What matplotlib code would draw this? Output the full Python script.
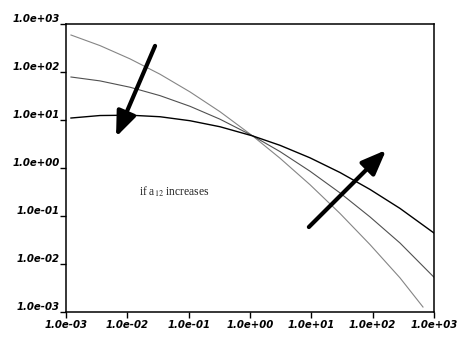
import numpy as np
import matplotlib
matplotlib.use("Agg")
import matplotlib.pyplot as plt
from matplotlib.ticker import FixedLocator, NullLocator

# ----
# DATA
# ----
decades = [1e-3, 1e-2, 1e-1, 1e0, 1e1, 1e2, 1e3]
x_labels = ["1.0e-03", "1.0e-02", "1.0e-01", "1.0e+00", "1.0e+01", "1.0e+02", "1.0e+03"]
y_labels = ["1.0e-03", "1.0e-02", "1.0e-01", "1.0e+00", "1.0e+01", "1.0e+02", "1.0e+03"]

# three responses, steepest first
x_a = [1.206e-3, 3.585e-3, 1.105e-2, 3.41e-2, 0.1052, 0.3243, 1.119, 3.086, 9.52, 29.35, 90.5, 279, 662]
y_a = [590, 355, 188, 90, 38.5, 14.9, 4.6, 1.6, 0.449, 0.113, 0.0254, 0.00515, 0.00127]

x_b = [1.206e-3, 3.585e-3, 1.105e-2, 3.41e-2, 0.1052, 0.3243, 1.119, 3.086, 9.52, 29.35, 90.5, 279, 1000]
y_b = [78.7, 65.3, 48.2, 32.2, 19.3, 10.4, 4.64, 2.2, 0.858, 0.303, 0.0958, 0.0274, 0.0053]

x_c = [1.206e-3, 3.585e-3, 1.105e-2, 3.41e-2, 0.1052, 0.3243, 1.119, 3.086, 9.52, 29.35, 90.5, 279, 1000]
y_c = [11.0, 12.4, 12.6, 11.7, 9.66, 7.24, 4.64, 2.97, 1.63, 0.806, 0.358, 0.144, 0.0442]

# ----
# Plot
# ----
fig = plt.figure(figsize=(4.66, 3.49), dpi=100)
ax = fig.add_axes([0.1416, 0.106, 0.7897, 0.8252])

ax.plot(x_a, y_a, color='#858585', lw=0.8)
ax.plot(x_b, y_b, color='#505050', lw=0.8)
ax.plot(x_c, y_c, color='black', lw=1.0)

ax.set_xscale('log')
ax.set_yscale('log')
ax.set_xlim(decades[0], decades[-1])
ax.set_ylim(decades[0], decades[-1])

tick_font = dict(family='DejaVu Sans', style='oblique', weight='bold', size=7.3)
ax.xaxis.set_major_locator(FixedLocator(decades))
ax.yaxis.set_major_locator(FixedLocator(decades))
ax.xaxis.set_minor_locator(NullLocator())
ax.yaxis.set_minor_locator(NullLocator())
ax.set_xticklabels(x_labels, fontdict=tick_font)
ax.set_yticklabels(y_labels, fontdict=tick_font)
for lab in ax.get_yticklabels():
    lab.set_verticalalignment('bottom')
ax.tick_params(axis='both', direction='out', length=4.5, width=1.0, color='black')
ax.tick_params(axis='y', pad=0)
ax.tick_params(axis='x', pad=1)

for sp in ax.spines.values():
    sp.set_linewidth(1.1)

# arrows showing which way the curves move
arrow_props = dict(arrowstyle='-|>,head_length=0.75,head_width=0.3', lw=3.0,
                   color='black', shrinkA=0, shrinkB=0, mutation_scale=20)
ax.annotate('', xy=(0.136, 0.608), xytext=(0.242, 0.924),
            xycoords='axes fraction', arrowprops=arrow_props)
ax.annotate('', xy=(0.870, 0.5625), xytext=(0.660, 0.295),
            xycoords='axes fraction', arrowprops=arrow_props)

plt.rcParams['mathtext.fontset'] = 'stix'
ax.text(0.198, 0.403, r'if a$_{12}$ increases', transform=ax.transAxes,
        family='Liberation Serif', size=8.3, color='#222222', va='baseline')

fig.savefig('out.png', dpi=100)
